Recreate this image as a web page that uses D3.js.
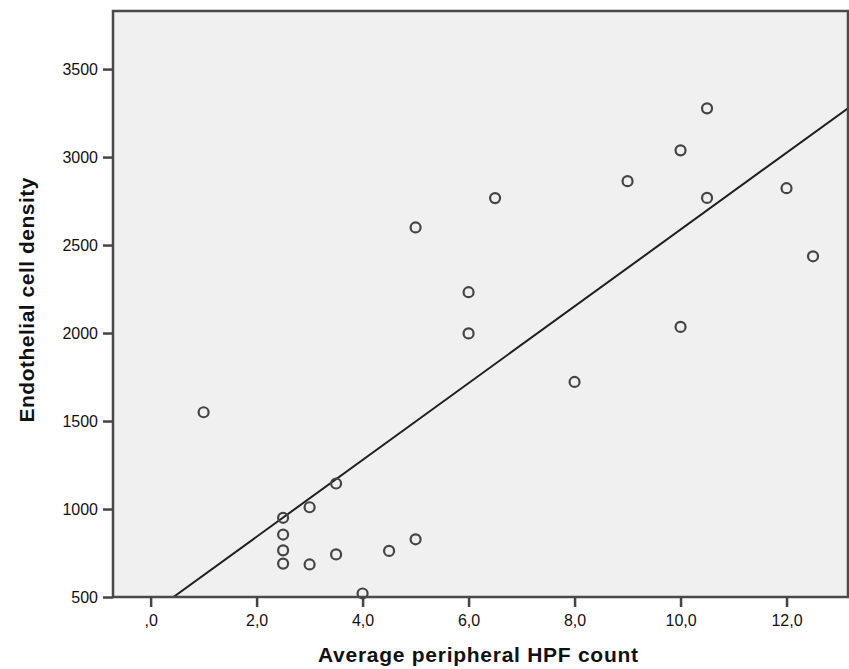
<!DOCTYPE html>
<html lang="en">
<head>
<meta charset="UTF-8">
<title>Endothelial cell density vs HPF count</title>
<style>
  body { margin: 0; background: #fff; }
  svg { display: block; font-family: "Liberation Sans", Arial, sans-serif; }
  .axis-title { font-size: 21px; font-weight: bold; fill: #111; }
</style>
</head>
<body>
<div id="chart"></div>
<script src="https://d3js.org/d3.v7.min.js"></script>
<script>
const hpfCount = [1.0, 2.5, 2.5, 2.5, 2.5, 3.0, 3.0, 3.5, 3.5, 4.0, 4.5, 5.0, 5.0,
                  6.0, 6.0, 6.5, 8.0, 9.0, 10.0, 10.0, 10.5, 10.5, 12.0, 12.5];
const cellDensity = [1550, 950, 855, 765, 690, 1010, 685, 1145, 742, 520, 762, 828, 2600,
                     2232, 1998, 2767, 1722, 2863, 3038, 2035, 3277, 2768, 2823, 2436];
// fit line (intercept, slope)
const fit = [406, 218.2];
const xTicks = [0, 2, 4, 6, 8, 10, 12];
const yTicks = [500, 1000, 1500, 2000, 2500, 3000, 3500];

const width = 849, height = 669;
const margin = { top: 11, right: 1, bottom: 72, left: 113 };

const svg = d3.select("#chart").append("svg")
  .attr("width", width)
  .attr("height", height);

const x = d3.scaleLinear().domain([-0.71, 13.16]).range([margin.left, width - margin.right]);
const y = d3.scaleLinear().domain([500, 3830]).range([height - margin.bottom, margin.top]);

const fmtX = d => (d === 0 ? ",0" : d3.format(".1f")(d).replace(".", ","));

// plot background
svg.append("rect")
  .attr("x", x.range()[0]).attr("y", y.range()[1])
  .attr("width", x.range()[1] - x.range()[0])
  .attr("height", y.range()[0] - y.range()[1])
  .attr("fill", "#f0f0f0");

svg.append("defs").append("clipPath").attr("id", "clip")
  .append("rect")
  .attr("x", x.range()[0]).attr("y", y.range()[1])
  .attr("width", x.range()[1] - x.range()[0])
  .attr("height", y.range()[0] - y.range()[1]);

// regression line
const x0 = (500 - fit[0]) / fit[1];
const x1 = x.domain()[1];
svg.append("line")
  .attr("clip-path", "url(#clip)")
  .attr("x1", x(x0)).attr("y1", y(fit[0] + fit[1] * x0))
  .attr("x2", x(x1)).attr("y2", y(fit[0] + fit[1] * x1))
  .attr("stroke", "#1e1e1e")
  .attr("stroke-width", 2);

// points
svg.append("g")
  .selectAll("circle")
  .data(hpfCount.map((v, i) => [v, cellDensity[i]]))
  .join("circle")
  .attr("cx", d => x(d[0]))
  .attr("cy", d => y(d[1]))
  .attr("r", 5)
  .attr("fill", "none")
  .attr("stroke", "#444")
  .attr("stroke-width", 2.2);

// frame
svg.append("rect")
  .attr("x", x.range()[0]).attr("y", y.range()[1])
  .attr("width", x.range()[1] - x.range()[0])
  .attr("height", y.range()[0] - y.range()[1])
  .attr("fill", "none")
  .attr("stroke", "#4a4a4a")
  .attr("stroke-width", 2.5);

// axes
const xAxis = svg.append("g")
  .attr("transform", `translate(0,${y.range()[0]})`)
  .call(d3.axisBottom(x).tickValues(xTicks).tickFormat(fmtX).tickSize(10).tickPadding(8));
const yAxis = svg.append("g")
  .attr("transform", `translate(${x.range()[0]},0)`)
  .call(d3.axisLeft(y).tickValues(yTicks).tickFormat(d3.format("d")).tickSize(10).tickPadding(5));

xAxis.attr("font-size", 16);
yAxis.attr("font-size", 16);
[xAxis, yAxis].forEach(g => {
  g.attr("font-family", null);
  g.select(".domain").remove();
  g.selectAll(".tick line").attr("stroke", "#444").attr("stroke-width", 2.5);
  g.selectAll(".tick text").attr("fill", "#111");
});

// axis titles
svg.append("text")
  .attr("class", "axis-title")
  .attr("x", 478).attr("y", 662)
  .attr("text-anchor", "middle")
  .attr("textLength", 320)
  .text("Average peripheral HPF count");

svg.append("text")
  .attr("class", "axis-title")
  .attr("transform", `translate(34,300) rotate(-90)`)
  .attr("text-anchor", "middle")
  .attr("textLength", 245)
  .text("Endothelial cell density");
</script>
</body>
</html>
